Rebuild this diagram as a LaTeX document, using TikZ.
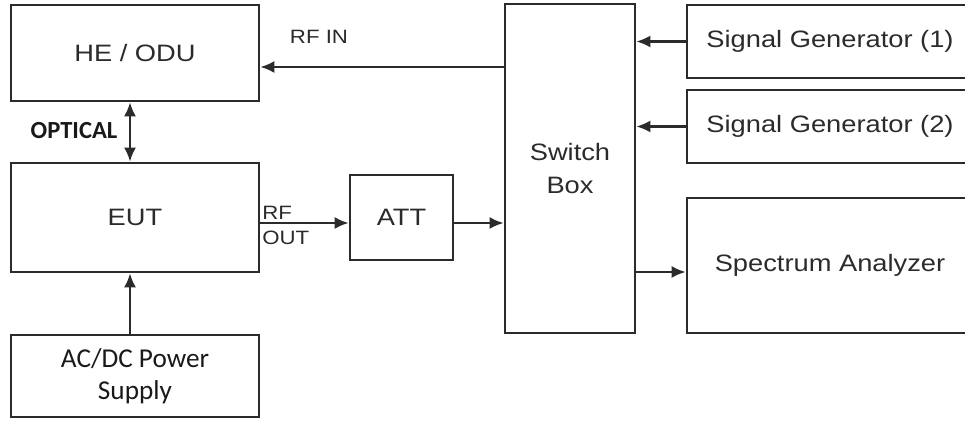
\documentclass[tikz,border=0pt]{standalone}
\usepackage{fontspec}
\setmainfont{Liberation Sans}[FakeStretch=1.15]
\newfontfamily\calib{Carlito}
\usepackage{tikz}
\usetikzlibrary{arrows.meta,positioning}
\definecolor{ink}{HTML}{2B2B2B}
\tikzset{blk/.style={draw=ink,line width=1.5pt,align=center,text=ink,inner sep=2pt,
    font=\fontsize{13.5}{17}\selectfont},
  lbl/.style={text=ink,inner sep=0pt,font=\fontsize{11}{13}\selectfont},
  tip/.style={Latex[length=2.8mm,width=2.4mm]},
  arr/.style={-{Latex[length=2.8mm,width=2.4mm]},line width=1.3pt,draw=ink}}

\begin{document}
\begin{tikzpicture}[x=0.02cm,y=-0.02cm]
\clip (0,0) rectangle (965,421);
% left column
\node[blk,minimum width=4.96cm,minimum height=1.92cm] (heodu) at (135,53) {HE / ODU};
\node[blk,minimum width=4.96cm,minimum height=2.18cm] (eut) at (135,217.5) {EUT};
\node[blk,minimum width=4.96cm,minimum height=1.64cm,font=\calib\fontsize{15.5}{18}\selectfont,text=black!90] (psu) at (135,376) {AC/DC Power\\Supply};
\node[blk,minimum width=2.06cm,minimum height=1.7cm] (att) at (401.5,217.5) {ATT};
% switch box and instruments
\node[blk,minimum width=2.6cm,minimum height=6.58cm] (sw) at (570,168.5) {Switch\\[2pt]Box};
\node[blk,minimum width=5.72cm,minimum height=1.46cm] (sg1) at (830,41.5) {Signal Generator (1)};
\node[blk,minimum width=5.72cm,minimum height=1.46cm] (sg2) at (830,126.5) {Signal Generator (2)};
\node[blk,minimum width=5.72cm,minimum height=2.7cm] (sa) at (830,265.5) {Spectrum Analyzer};
% helper coordinates
\coordinate (col) at (130,0);
\coordinate (rfin) at (0,67);
\coordinate (rfout) at (0,223);
\coordinate (say) at (0,272);
% connectors
\draw[arr] (sw.west |- rfin) -- (heodu.east |- rfin);
\draw[arr,{Latex[length=2.8mm,width=2.4mm]}-{Latex[length=2.8mm,width=2.4mm]}] (heodu.south -| col) -- (eut.north -| col);
\draw[arr] (psu.north -| col) -- (eut.south -| col);
\draw[arr] (eut.east |- rfout) -- (att.west |- rfout);
\draw[arr] (att.east |- rfout) -- (sw.west |- rfout);
\draw[arr] (sg1.west) -- (sg1.west -| sw.east);
\draw[arr] (sg2.west) -- (sg2.west -| sw.east);
\draw[arr] (sw.east |- say) -- (sa.west |- say);
% labels
\node[lbl] (rfinlbl) at (319,37) {RF IN};
\node[lbl,anchor=west] (rflbl) at (262,213) {RF};
\node[lbl,anchor=west] (outlbl) at (262,238) {OUT};
\node[text=black!90,inner sep=0pt,font=\calib\bfseries\fontsize{14}{16}\selectfont] (optlbl) at (74,131) {OPTICAL};
\end{tikzpicture}
\end{document}
